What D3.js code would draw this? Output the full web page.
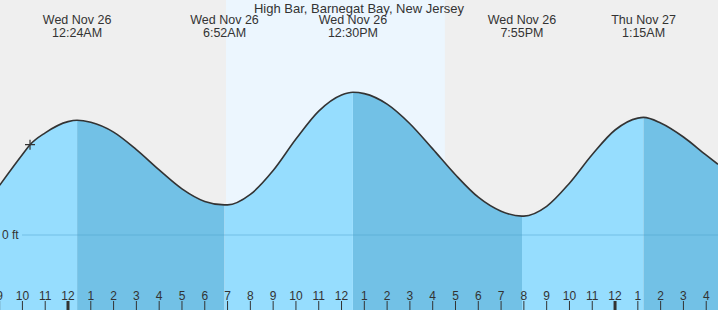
<!DOCTYPE html>
<html>
<head>
<meta charset="utf-8">
<script src="https://cdn.jsdelivr.net/npm/d3@7"></script>
<style>
  body { margin: 0; background: #efefef; }
  svg { display: block; font-family: "Liberation Sans", Arial, sans-serif; }
</style>
</head>
<body>
<div id="chart"></div>
<script>
let width = 718,
    height = 310;

let title = "High Bar, Barnegat Bay, New Jersey";

// tide curve (local time, feet), roughly hourly
let curveTimes = ["2025-11-25 21:00", "2025-11-25 22:00", "2025-11-25 22:20", "2025-11-25 23:00",
                  "2025-11-26 00:00", "2025-11-26 00:24", "2025-11-26 01:00", "2025-11-26 02:00",
                  "2025-11-26 03:00", "2025-11-26 04:00", "2025-11-26 05:00", "2025-11-26 06:00",
                  "2025-11-26 06:52", "2025-11-26 07:00", "2025-11-26 08:00", "2025-11-26 09:00",
                  "2025-11-26 10:00", "2025-11-26 11:00", "2025-11-26 12:00", "2025-11-26 12:30",
                  "2025-11-26 13:00", "2025-11-26 14:00", "2025-11-26 15:00", "2025-11-26 16:00",
                  "2025-11-26 17:00", "2025-11-26 18:00", "2025-11-26 19:00", "2025-11-26 19:55",
                  "2025-11-26 20:00", "2025-11-26 21:00", "2025-11-26 22:00", "2025-11-26 23:00",
                  "2025-11-27 00:00", "2025-11-27 01:00", "2025-11-27 01:15", "2025-11-27 02:00",
                  "2025-11-27 03:00", "2025-11-27 04:00", "2025-11-27 04:31"];
let curveHeights = [0.71, 1.15, 1.29, 1.46,
                    1.62, 1.64, 1.61, 1.47,
                    1.22, 0.93, 0.66, 0.48,
                    0.43, 0.43, 0.58, 0.92,
                    1.37, 1.77, 2.00, 2.04,
                    2.02, 1.87, 1.59, 1.23,
                    0.86, 0.54, 0.34, 0.27,
                    0.27, 0.41, 0.74, 1.15,
                    1.50, 1.67, 1.68, 1.60,
                    1.40, 1.14, 1.01];

// high / low events
let eventTimes = ["2025-11-26 00:24", "2025-11-26 06:52", "2025-11-26 12:30", "2025-11-26 19:55", "2025-11-27 01:15"];
let eventDays = ["Wed Nov 26", "Wed Nov 26", "Wed Nov 26", "Wed Nov 26", "Thu Nov 27"];
let eventLabels = ["12:24AM", "6:52AM", "12:30PM", "7:55PM", "1:15AM"];
let eventTypes = ["high", "low", "high", "low", "high"];

let daylight = ["2025-11-26 06:56", "2025-11-26 16:32"];
let nowTime = "2025-11-25 22:20";
let domainTimes = ["2025-11-25 21:01", "2025-11-27 04:31"];

let parse = d3.timeParse("%Y-%m-%d %H:%M");

let data = curveTimes.map((t, i) => ({ time: parse(t), ft: curveHeights[i] }));

let svg = d3.select("#chart")
            .append("svg")
            .attr("width", width)
            .attr("height", height);

// ----- SCALES -----
let xScale = d3.scaleTime()
    .domain(domainTimes.map(parse))
    .range([0, width]);

let yScale = d3.scaleLinear()
    .domain([-1, 3])
    .range([305, 25]);

// background + daylight
svg.append("rect")
    .attr("width", width).attr("height", height)
    .attr("fill", "#efefef");

svg.append("rect")
    .attr("x", xScale(parse(daylight[0])))
    .attr("width", xScale(parse(daylight[1])) - xScale(parse(daylight[0])))
    .attr("y", 0).attr("height", height)
    .attr("fill", "#ecf6fe");

// ----- AREA, split into rising / falling pieces -----
let area = d3.area()
    .x(d => xScale(d.time))
    .y0(height)
    .y1(d => yScale(d.ft))
    .curve(d3.curveMonotoneX);

let bounds = [parse(domainTimes[0])].concat(eventTimes.map(parse), [parse(domainTimes[1])]);
let defs = svg.append("defs");

for (let i = 0; i < bounds.length - 1; i++) {
    let rising = i === 0 ? eventTypes[0] === "high" : eventTypes[i - 1] === "low";
    defs.append("clipPath").attr("id", "seg" + i)
        .append("rect")
        .attr("x", xScale(bounds[i]))
        .attr("width", xScale(bounds[i + 1]) - xScale(bounds[i]))
        .attr("y", 0).attr("height", height);

    svg.append("path")
        .datum(data)
        .attr("d", area)
        .attr("clip-path", `url(#seg${i})`)
        .attr("fill", rising ? "#96ddfe" : "#72c1e6");
}

// zero line
svg.append("line")
    .attr("x1", 22).attr("x2", width)
    .attr("y1", yScale(0)).attr("y2", yScale(0))
    .attr("stroke", "#4a9cc8")
    .attr("stroke-opacity", 0.45);

svg.append("text")
    .attr("x", 2).attr("y", yScale(0) + 4)
    .style("font-size", "12px")
    .attr("fill", "#333")
    .text("0 ft");

// ----- LINE -----
let line = d3.line()
    .x(d => xScale(d.time))
    .y(d => yScale(d.ft))
    .curve(d3.curveMonotoneX);

svg.append("path")
    .datum(data)
    .attr("d", line)
    .attr("fill", "none")
    .attr("stroke", "#333")
    .attr("stroke-width", 1.6);

// current time marker
let nowX = xScale(parse(nowTime)),
    nowY = yScale(curveHeights[curveTimes.indexOf(nowTime)]);
svg.append("path")
    .attr("d", `M${nowX - 5},${nowY}H${nowX + 5}M${nowX},${nowY - 5}V${nowY + 5}`)
    .attr("stroke", "#333")
    .attr("stroke-width", 1.2);

// ----- HOUR AXIS -----
let hours = d3.timeHour.range(d3.timeHour.floor(xScale.domain()[0]), xScale.domain()[1]);
let hourFmt = d3.timeFormat("%-I");

let ticks = svg.append("g");
ticks.selectAll("line")
    .data(hours)
    .join("line")
    .attr("x1", d => xScale(d)).attr("x2", d => xScale(d))
    .attr("y1", 301).attr("y2", height)
    .attr("stroke", "#333")
    .attr("stroke-width", d => d.getHours() === 0 ? 3 : 1);

ticks.selectAll("text")
    .data(hours)
    .join("text")
    .attr("x", d => xScale(d))
    .attr("y", 300)
    .attr("text-anchor", "middle")
    .style("font-size", "12px")
    .attr("fill", "#333")
    .text(d => hourFmt(d));

// ----- EVENT LABELS -----
let labels = svg.append("g")
    .attr("text-anchor", "middle")
    .style("font-size", "12.5px")
    .attr("fill", "#333");

eventTimes.forEach((t, i) => {
    let x = xScale(parse(t));
    labels.append("text").attr("x", x).attr("y", 23.5).text(eventDays[i]);
    labels.append("text").attr("x", x).attr("y", 36.5).text(eventLabels[i]);
});

svg.append("text")
    .attr("x", width / 2)
    .attr("y", 12.5)
    .attr("text-anchor", "middle")
    .style("font-size", "13px")
    .attr("fill", "#333")
    .text(title);
</script>
</body>
</html>
